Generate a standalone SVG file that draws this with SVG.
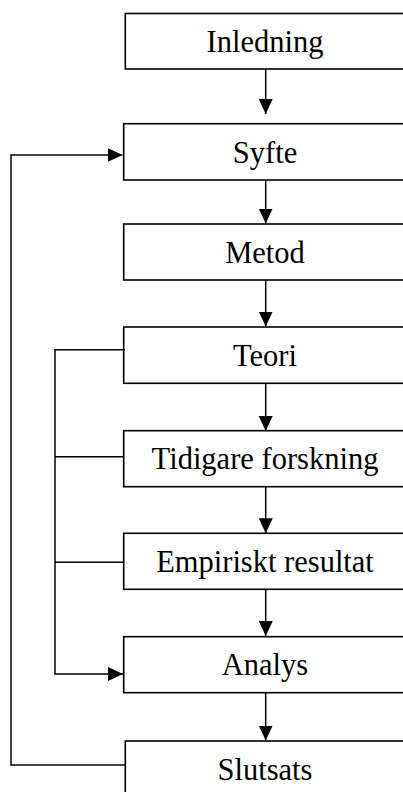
<svg xmlns="http://www.w3.org/2000/svg" width="403" height="792" viewBox="0 0 403 792">
<style>
.box{fill:#fff;stroke:#000;stroke-width:1.6}
.lbl{font-family:"Liberation Serif","Times New Roman",serif;font-size:30.5px;fill:#000;text-anchor:middle}
.ln{fill:none;stroke:#000;stroke-width:1.5}
</style>
<defs>
<marker id="ah" markerUnits="userSpaceOnUse" markerWidth="15" markerHeight="15" viewBox="0 0 15 15" refX="15" refY="7.5" orient="auto">
<path d="M0,0.5 L15,7.5 L0,14.5 Z" fill="#000"/>
</marker>
</defs>
<g id="n-inledning"><rect class="box" x="125.3" y="13.5" width="290" height="55.5"/><text class="lbl" x="265" y="52">Inledning</text></g>
<g id="n-syfte"><rect class="box" x="123.7" y="123.7" width="290" height="56.3"/><text class="lbl" x="265" y="162.5">Syfte</text></g>
<g id="n-metod"><rect class="box" x="123.7" y="224" width="290" height="56"/><text class="lbl" x="265" y="262.5">Metod</text></g>
<g id="n-teori"><rect class="box" x="123.7" y="327" width="290" height="56.3"/><text class="lbl" x="265" y="365.5">Teori</text></g>
<g id="n-tidigare"><rect class="box" x="123.7" y="430.7" width="290" height="56"/><text class="lbl" x="265" y="469">Tidigare forskning</text></g>
<g id="n-empiriskt"><rect class="box" x="123.7" y="533.3" width="290" height="56"/><text class="lbl" x="265" y="572">Empiriskt resultat</text></g>
<g id="n-analys"><rect class="box" x="123.7" y="636.7" width="290" height="56"/><text class="lbl" x="265" y="675">Analys</text></g>
<g id="n-slutsats"><rect class="box" x="125.3" y="741" width="290" height="56"/><text class="lbl" x="265" y="779.5">Slutsats</text></g>
<g id="connectors">
<line class="ln" x1="265.7" y1="69" x2="265.7" y2="114" marker-end="url(#ah)"/>
<line class="ln" x1="265.7" y1="180" x2="265.7" y2="223.5" marker-end="url(#ah)"/>
<line class="ln" x1="265.7" y1="280" x2="265.7" y2="326.5" marker-end="url(#ah)"/>
<line class="ln" x1="265.7" y1="383.3" x2="265.7" y2="431" marker-end="url(#ah)"/>
<line class="ln" x1="265.7" y1="486.7" x2="265.7" y2="533.3" marker-end="url(#ah)"/>
<line class="ln" x1="265.7" y1="589.3" x2="265.7" y2="636" marker-end="url(#ah)"/>
<line class="ln" x1="265.7" y1="692.7" x2="265.7" y2="740.5" marker-end="url(#ah)"/>
<path class="ln" d="M125,349.7 H55 V674 H123" marker-end="url(#ah)"/>
<line class="ln" x1="55" y1="456.7" x2="123.7" y2="456.7"/>
<line class="ln" x1="55" y1="562.3" x2="123.7" y2="562.3"/>
<path class="ln" d="M125.3,765 H11 V155 H122.5" marker-end="url(#ah)"/>
</g>
</svg>
